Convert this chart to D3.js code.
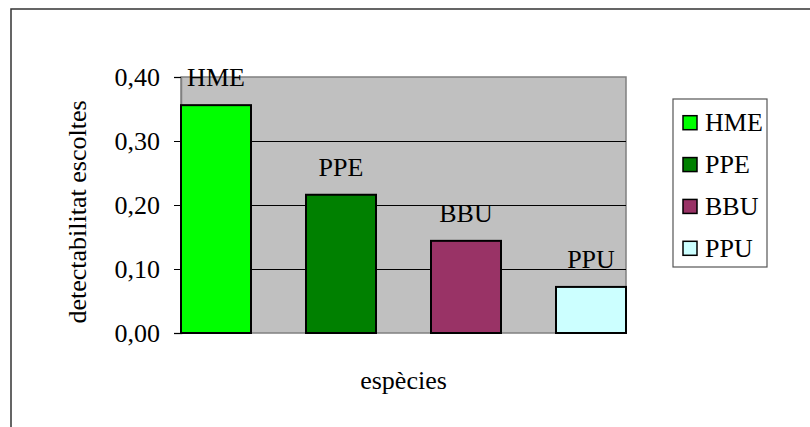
<!DOCTYPE html>
<html>
<head>
<meta charset="utf-8">
<script src="https://cdn.jsdelivr.net/npm/d3@7"></script>
<style>
  html, body { margin: 0; padding: 0; background: #ffffff; }
  svg { display: block; }
</style>
</head>
<body>
<svg id="chart" width="810" height="427" font-family="Liberation Serif"></svg>
<script>
const categories = ["HME", "PPE", "BBU", "PPU"];
const values = [0.356, 0.216, 0.144, 0.072];
const colors = ["#00FF00", "#008000", "#993366", "#CCFFFF"];
const yTicks = [0, 0.1, 0.2, 0.3, 0.4];
const yTitle = "detectabilitat escoltes";
const xTitle = "espècies";

const W = 810, H = 427;
const plot = { left: 181, right: 626, top: 77, bottom: 333 };
const fontSize = 26;
const FONT = "Liberation Serif";

const svg = d3.select("#chart");

// outer chart border
svg.append("rect")
  .attr("x", 11).attr("y", 9)
  .attr("width", W + 20).attr("height", H + 20)
  .attr("fill", "#fff")
  .attr("stroke", "#333").attr("stroke-width", 1.5);

const x = d3.scaleBand()
  .domain(categories)
  .range([plot.left, plot.right])
  .paddingInner(0.44)
  .paddingOuter(0);

const y = d3.scaleLinear()
  .domain([0, 0.4])
  .range([plot.bottom, plot.top]);

const locale = d3.formatLocale({ decimal: ",", thousands: ".", grouping: [3], currency: ["", "€"] });
const fmt = locale.format(".2f");

// plot area background
svg.append("rect")
  .attr("x", plot.left).attr("y", plot.top)
  .attr("width", plot.right - plot.left).attr("height", plot.bottom - plot.top)
  .attr("fill", "#C0C0C0")
  .attr("stroke", "#808080").attr("stroke-width", 1.5);

// gridlines
svg.append("g")
  .selectAll("line")
  .data(yTicks.filter(d => d > 0 && d < 0.4))
  .join("line")
  .attr("x1", plot.left).attr("x2", plot.right)
  .attr("y1", d => Math.round(y(d)) + 0.5).attr("y2", d => Math.round(y(d)) + 0.5)
  .attr("stroke", "#000").attr("stroke-width", 1);

// y axis
const yAxis = d3.axisLeft(y)
  .tickValues(yTicks)
  .tickFormat(fmt)
  .tickSize(7)
  .tickPadding(14);

const gy = svg.append("g")
  .attr("transform", `translate(${plot.left},0)`)
  .call(yAxis)
  .attr("font-family", FONT)
  .attr("font-size", fontSize);
gy.select(".domain").attr("stroke", "#808080").attr("stroke-width", 1.5);
gy.selectAll(".tick line").attr("stroke", "#000").attr("stroke-width", 1);
gy.selectAll(".tick text")
  .attr("font-size", fontSize)
  .attr("font-family", FONT)
  .attr("fill", "#000");

// bars
svg.append("g")
  .selectAll("rect")
  .data(categories)
  .join("rect")
  .attr("x", d => x(d))
  .attr("y", (d, i) => y(values[i]))
  .attr("width", x.bandwidth())
  .attr("height", (d, i) => y(0) - y(values[i]))
  .attr("fill", (d, i) => colors[i])
  .attr("stroke", "#000").attr("stroke-width", 2);

// bar labels
svg.append("g")
  .selectAll("text")
  .data(categories)
  .join("text")
  .attr("x", d => x(d) + x.bandwidth() / 2)
  .attr("y", (d, i) => y(values[i]) - 19)
  .attr("text-anchor", "middle")
  .attr("font-family", FONT)
  .attr("font-size", fontSize)
  .attr("fill", "#000")
  .text(d => d);

// axis titles
svg.append("text")
  .attr("x", (plot.left + plot.right) / 2)
  .attr("y", 389)
  .attr("text-anchor", "middle")
  .attr("font-family", FONT)
  .attr("font-size", fontSize)
  .attr("fill", "#000")
  .text(xTitle);

svg.append("text")
  .attr("transform", `translate(86,${(plot.top + plot.bottom) / 2 + 7}) rotate(-90)`)
  .attr("text-anchor", "middle")
  .attr("font-family", FONT)
  .attr("font-size", fontSize)
  .attr("fill", "#000")
  .text(yTitle);

// legend
const legend = { x: 673, y: 99, w: 94, h: 168 };
svg.append("rect")
  .attr("x", legend.x).attr("y", legend.y)
  .attr("width", legend.w).attr("height", legend.h)
  .attr("fill", "#fff")
  .attr("stroke", "#555").attr("stroke-width", 1.2);

const rowY = d3.scalePoint().domain(categories).range([122.7, 248.3]);
const lg = svg.append("g")
  .selectAll("g")
  .data(categories)
  .join("g")
  .attr("transform", d => `translate(0,${rowY(d)})`);
lg.append("rect")
  .attr("x", 683).attr("y", -7)
  .attr("width", 14).attr("height", 14)
  .attr("fill", (d, i) => colors[i])
  .attr("stroke", "#000").attr("stroke-width", 1.5);
lg.append("text")
  .attr("x", 705).attr("y", 0)
  .attr("dy", "0.33em")
  .attr("font-family", FONT)
  .attr("font-size", fontSize)
  .attr("fill", "#000")
  .text(d => d);
</script>
</body>
</html>
